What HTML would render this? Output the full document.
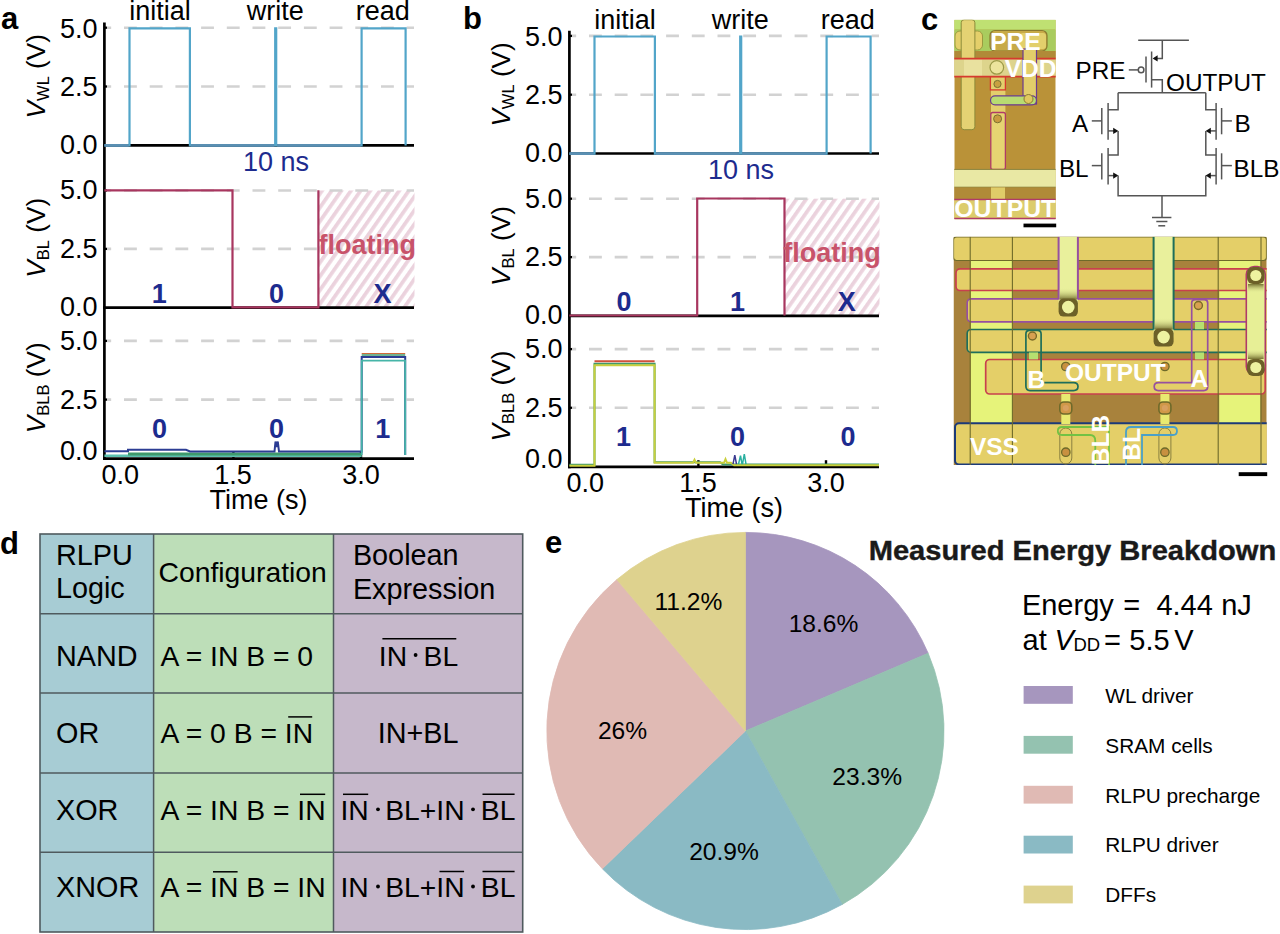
<!DOCTYPE html><html><head><meta charset="utf-8"><style>html,body{margin:0;padding:0;background:#fff;}svg{display:block;}text{font-family:"Liberation Sans", sans-serif;}</style></head><body>
<svg width="1280" height="934" viewBox="0 0 1280 934">
<defs><pattern id="hatch" patternUnits="userSpaceOnUse" width="7.9" height="20" patternTransform="rotate(35)"><rect width="3.7" height="20" fill="#ebd2dd"/></pattern></defs>
<rect width="1280" height="934" fill="#fff"/>
<g transform="translate(0,0)">
<rect x="318.4" y="190.5" width="96.10000000000002" height="116.5" fill="url(#hatch)"/>
<line x1="104.4" y1="27.7" x2="414" y2="27.7" stroke="#d2d2d2" stroke-width="2.6" stroke-dasharray="12.85 12.85" stroke-dashoffset="6.1"/>
<line x1="104.4" y1="86.5" x2="414" y2="86.5" stroke="#d2d2d2" stroke-width="2.6" stroke-dasharray="12.85 12.85" stroke-dashoffset="6.1"/>
<line x1="104.4" y1="190.5" x2="414" y2="190.5" stroke="#d2d2d2" stroke-width="2.6" stroke-dasharray="12.85 12.85" stroke-dashoffset="6.1"/>
<line x1="104.4" y1="248.9" x2="414" y2="248.9" stroke="#d2d2d2" stroke-width="2.6" stroke-dasharray="12.85 12.85" stroke-dashoffset="6.1"/>
<line x1="104.4" y1="340.9" x2="414" y2="340.9" stroke="#d2d2d2" stroke-width="2.6" stroke-dasharray="12.85 12.85" stroke-dashoffset="6.1"/>
<line x1="104.4" y1="399.6" x2="414" y2="399.6" stroke="#d2d2d2" stroke-width="2.6" stroke-dasharray="12.85 12.85" stroke-dashoffset="6.1"/>
<line x1="104.4" y1="22.5" x2="104.4" y2="460" stroke="#000" stroke-width="2.7"/>
<line x1="103" y1="145.3" x2="414" y2="145.3" stroke="#000" stroke-width="2.7"/>
<line x1="103" y1="307.7" x2="414" y2="307.7" stroke="#000" stroke-width="2.7"/>
<line x1="103" y1="458.6" x2="414" y2="458.6" stroke="#000" stroke-width="2.7"/>
<line x1="104" y1="27.7" x2="107" y2="27.7" stroke="#000" stroke-width="2.2"/>
<line x1="104" y1="86.5" x2="107" y2="86.5" stroke="#000" stroke-width="2.2"/>
<line x1="104" y1="190.5" x2="107" y2="190.5" stroke="#000" stroke-width="2.2"/>
<line x1="104" y1="248.9" x2="107" y2="248.9" stroke="#000" stroke-width="2.2"/>
<line x1="104" y1="340.9" x2="107" y2="340.9" stroke="#000" stroke-width="2.2"/>
<line x1="104" y1="399.6" x2="107" y2="399.6" stroke="#000" stroke-width="2.2"/>
<line x1="233.4" y1="458" x2="233.4" y2="452" stroke="#000" stroke-width="2.4"/>
<line x1="361" y1="458" x2="361" y2="452" stroke="#000" stroke-width="2.4"/>
<path d="M104.4,145.4 H129.5 V28.3 H189.9 V145.4 H275.2 V28.3 H276.2 V145.4 H361.6 V28.3 H405.6 V145.4" fill="none" stroke="#52a5c9" stroke-width="2.2"/>
<path d="M104.4,145.4 H128.6 M190.8,145.4 H274.3 M277.1,145.4 H360.7" fill="none" stroke="#5a8fb2" stroke-width="2.6"/>
<path d="M104.4,190.3 H232.5 V307.3 H318.4 V190.3" fill="none" stroke="#a8365f" stroke-width="2.2"/>
<path d="M104.4,455.8 H361.7" fill="none" stroke="#5cc0b0" stroke-width="2.4"/>
<path d="M128,454 H361.7" fill="none" stroke="#3f9a6c" stroke-width="3"/>
<path d="M361.7,355 H405.2" fill="none" stroke="#3f9a6c" stroke-width="1.5"/>
<path d="M361.7,353.5 H405.2" fill="none" stroke="#d06a3a" stroke-width="1.2"/>
<path d="M104.4,451.3 H128 V449.8 H186 L190,451.5 H274.5 L275.5,441.5 L276.6,447 L277.8,441.5 L279,451.5 H361.7 V357 H405.2 V455" fill="none" stroke="#2c3d94" stroke-width="2"/>
<path d="M361.7,455 V360.7 H405.2 V455" fill="none" stroke="#46b5a8" stroke-width="1.8"/>
<text x="97.6" y="37.6" font-size="27" fill="#000" font-weight="normal" text-anchor="end" font-style="normal" >5.0</text>
<text x="97.6" y="96.3" font-size="27" fill="#000" font-weight="normal" text-anchor="end" font-style="normal" >2.5</text>
<text x="97.6" y="153.8" font-size="27" fill="#000" font-weight="normal" text-anchor="end" font-style="normal" >0.0</text>
<text x="97.6" y="199.4" font-size="27" fill="#000" font-weight="normal" text-anchor="end" font-style="normal" >5.0</text>
<text x="97.6" y="257.7" font-size="27" fill="#000" font-weight="normal" text-anchor="end" font-style="normal" >2.5</text>
<text x="97.6" y="316" font-size="27" fill="#000" font-weight="normal" text-anchor="end" font-style="normal" >0.0</text>
<text x="97.6" y="350.3" font-size="27" fill="#000" font-weight="normal" text-anchor="end" font-style="normal" >5.0</text>
<text x="97.6" y="408.7" font-size="27" fill="#000" font-weight="normal" text-anchor="end" font-style="normal" >2.5</text>
<text x="97.6" y="459.7" font-size="27" fill="#000" font-weight="normal" text-anchor="end" font-style="normal" >0.0</text>
<text x="120.3" y="484.3" font-size="27" fill="#000" font-weight="normal" text-anchor="middle" font-style="normal" >0.0</text>
<text x="233.1" y="484.3" font-size="27" fill="#000" font-weight="normal" text-anchor="middle" font-style="normal" >1.5</text>
<text x="360.9" y="484.3" font-size="27" fill="#000" font-weight="normal" text-anchor="middle" font-style="normal" >3.0</text>
<text x="258.6" y="509.2" font-size="27" fill="#000" font-weight="normal" text-anchor="middle" font-style="normal" >Time (s)</text>
<text transform="translate(45.3,76.2) rotate(-90)" font-size="26.2" text-anchor="middle"><tspan font-style="italic">V</tspan><tspan font-size="16.5" dy="4">WL</tspan><tspan dy="-4"> (V)</tspan></text>
<text transform="translate(45.3,237.8) rotate(-90)" font-size="26.2" text-anchor="middle"><tspan font-style="italic">V</tspan><tspan font-size="16.5" dy="4">BL</tspan><tspan dy="-4"> (V)</tspan></text>
<text transform="translate(45.3,387.8) rotate(-90)" font-size="26.2" text-anchor="middle"><tspan font-style="italic">V</tspan><tspan font-size="16.5" dy="4">BLB</tspan><tspan dy="-4"> (V)</tspan></text>
<text x="160" y="20.3" font-size="27" fill="#000" font-weight="normal" text-anchor="middle" font-style="normal" >initial</text>
<text x="275.3" y="20.3" font-size="27" fill="#000" font-weight="normal" text-anchor="middle" font-style="normal" >write</text>
<text x="382.8" y="20.3" font-size="27" fill="#000" font-weight="normal" text-anchor="middle" font-style="normal" >read</text>
<text x="276" y="170.8" font-size="27" fill="#1d2b8e" font-weight="normal" text-anchor="middle" font-style="normal" >10 ns</text>
<text x="367.3" y="254" font-size="27" fill="#c8536a" font-weight="bold" text-anchor="middle" font-style="normal" >floating</text>
<text x="159.3" y="302.5" font-size="27" fill="#1d2b8e" font-weight="bold" text-anchor="middle" font-style="normal" >1</text>
<text x="276.6" y="302.5" font-size="27" fill="#1d2b8e" font-weight="bold" text-anchor="middle" font-style="normal" >0</text>
<text x="382.5" y="302.5" font-size="27" fill="#1d2b8e" font-weight="bold" text-anchor="middle" font-style="normal" >X</text>
<text x="159.5" y="437.8" font-size="27" fill="#1d2b8e" font-weight="bold" text-anchor="middle" font-style="normal" >0</text>
<text x="276.6" y="437.8" font-size="27" fill="#1d2b8e" font-weight="bold" text-anchor="middle" font-style="normal" >0</text>
<text x="382.7" y="437.8" font-size="27" fill="#1d2b8e" font-weight="bold" text-anchor="middle" font-style="normal" >1</text>
</g>
<g transform="translate(465,8.2)">
<rect x="319.5" y="190.5" width="95.0" height="116.5" fill="url(#hatch)"/>
<line x1="104.4" y1="27.7" x2="414" y2="27.7" stroke="#d2d2d2" stroke-width="2.6" stroke-dasharray="12.85 12.85" stroke-dashoffset="6.1"/>
<line x1="104.4" y1="86.5" x2="414" y2="86.5" stroke="#d2d2d2" stroke-width="2.6" stroke-dasharray="12.85 12.85" stroke-dashoffset="6.1"/>
<line x1="104.4" y1="190.5" x2="414" y2="190.5" stroke="#d2d2d2" stroke-width="2.6" stroke-dasharray="12.85 12.85" stroke-dashoffset="6.1"/>
<line x1="104.4" y1="248.9" x2="414" y2="248.9" stroke="#d2d2d2" stroke-width="2.6" stroke-dasharray="12.85 12.85" stroke-dashoffset="6.1"/>
<line x1="104.4" y1="340.9" x2="414" y2="340.9" stroke="#d2d2d2" stroke-width="2.6" stroke-dasharray="12.85 12.85" stroke-dashoffset="6.1"/>
<line x1="104.4" y1="399.6" x2="414" y2="399.6" stroke="#d2d2d2" stroke-width="2.6" stroke-dasharray="12.85 12.85" stroke-dashoffset="6.1"/>
<line x1="104.4" y1="22.5" x2="104.4" y2="460" stroke="#000" stroke-width="2.7"/>
<line x1="103" y1="145.3" x2="414" y2="145.3" stroke="#000" stroke-width="2.7"/>
<line x1="103" y1="307.7" x2="414" y2="307.7" stroke="#000" stroke-width="2.7"/>
<line x1="103" y1="458.6" x2="414" y2="458.6" stroke="#000" stroke-width="2.7"/>
<line x1="104" y1="27.7" x2="107" y2="27.7" stroke="#000" stroke-width="2.2"/>
<line x1="104" y1="86.5" x2="107" y2="86.5" stroke="#000" stroke-width="2.2"/>
<line x1="104" y1="190.5" x2="107" y2="190.5" stroke="#000" stroke-width="2.2"/>
<line x1="104" y1="248.9" x2="107" y2="248.9" stroke="#000" stroke-width="2.2"/>
<line x1="104" y1="340.9" x2="107" y2="340.9" stroke="#000" stroke-width="2.2"/>
<line x1="104" y1="399.6" x2="107" y2="399.6" stroke="#000" stroke-width="2.2"/>
<line x1="233.4" y1="458" x2="233.4" y2="452" stroke="#000" stroke-width="2.4"/>
<line x1="361" y1="458" x2="361" y2="452" stroke="#000" stroke-width="2.4"/>
<path d="M104.4,145.4 H129.5 V28.3 H189.9 V145.4 H275.2 V28.3 H276.2 V145.4 H361.6 V28.3 H405.6 V145.4" fill="none" stroke="#52a5c9" stroke-width="2.2"/>
<path d="M104.4,145.4 H128.6 M190.8,145.4 H274.3 M277.1,145.4 H360.7" fill="none" stroke="#5a8fb2" stroke-width="2.6"/>
<path d="M104.4,307.3 H232.2 V190.3 H319.5 V307.3" fill="none" stroke="#a8365f" stroke-width="2.2"/>
<path d="M104.4,456.5 H129.5 V355.6 H189.6 V454 H255 L258,456.2 H414" fill="none" stroke="#3f9a6c" stroke-width="2"/>
<path d="M129.5,353 H189.6" fill="none" stroke="#d0503a" stroke-width="2"/>
<path d="M104.4,457.5 H129.5 V357 H189.6 V454.6 H228 L229.5,451.5 L231,454.6 H259 L260.5,451 L262,454.6 H266 L269,457 H414" fill="none" stroke="#c9cf3c" stroke-width="2"/>
<path d="M268,456 L269.8,447 L271.5,456" fill="none" stroke="#3a3a90" stroke-width="1.5"/>
<path d="M273.5,456 L275.5,447.5 L277,456 M277.5,456 L279.3,446 L281,456" fill="none" stroke="#2ab0a0" stroke-width="1.5"/>
<text x="97.6" y="37.6" font-size="27" fill="#000" font-weight="normal" text-anchor="end" font-style="normal" >5.0</text>
<text x="97.6" y="96.3" font-size="27" fill="#000" font-weight="normal" text-anchor="end" font-style="normal" >2.5</text>
<text x="97.6" y="153.8" font-size="27" fill="#000" font-weight="normal" text-anchor="end" font-style="normal" >0.0</text>
<text x="97.6" y="199.4" font-size="27" fill="#000" font-weight="normal" text-anchor="end" font-style="normal" >5.0</text>
<text x="97.6" y="257.7" font-size="27" fill="#000" font-weight="normal" text-anchor="end" font-style="normal" >2.5</text>
<text x="97.6" y="316" font-size="27" fill="#000" font-weight="normal" text-anchor="end" font-style="normal" >0.0</text>
<text x="97.6" y="350.3" font-size="27" fill="#000" font-weight="normal" text-anchor="end" font-style="normal" >5.0</text>
<text x="97.6" y="408.7" font-size="27" fill="#000" font-weight="normal" text-anchor="end" font-style="normal" >2.5</text>
<text x="97.6" y="459.7" font-size="27" fill="#000" font-weight="normal" text-anchor="end" font-style="normal" >0.0</text>
<text x="120.3" y="484.3" font-size="27" fill="#000" font-weight="normal" text-anchor="middle" font-style="normal" >0.0</text>
<text x="233.1" y="484.3" font-size="27" fill="#000" font-weight="normal" text-anchor="middle" font-style="normal" >1.5</text>
<text x="360.9" y="484.3" font-size="27" fill="#000" font-weight="normal" text-anchor="middle" font-style="normal" >3.0</text>
<text x="268.9" y="509.2" font-size="27" fill="#000" font-weight="normal" text-anchor="middle" font-style="normal" >Time (s)</text>
<text transform="translate(45.3,76.2) rotate(-90)" font-size="26.2" text-anchor="middle"><tspan font-style="italic">V</tspan><tspan font-size="16.5" dy="4">WL</tspan><tspan dy="-4"> (V)</tspan></text>
<text transform="translate(45.3,237.8) rotate(-90)" font-size="26.2" text-anchor="middle"><tspan font-style="italic">V</tspan><tspan font-size="16.5" dy="4">BL</tspan><tspan dy="-4"> (V)</tspan></text>
<text transform="translate(45.3,387.8) rotate(-90)" font-size="26.2" text-anchor="middle"><tspan font-style="italic">V</tspan><tspan font-size="16.5" dy="4">BLB</tspan><tspan dy="-4"> (V)</tspan></text>
<text x="160" y="20.3" font-size="27" fill="#000" font-weight="normal" text-anchor="middle" font-style="normal" >initial</text>
<text x="275.3" y="20.3" font-size="27" fill="#000" font-weight="normal" text-anchor="middle" font-style="normal" >write</text>
<text x="382.8" y="20.3" font-size="27" fill="#000" font-weight="normal" text-anchor="middle" font-style="normal" >read</text>
<text x="276" y="170.8" font-size="27" fill="#1d2b8e" font-weight="normal" text-anchor="middle" font-style="normal" >10 ns</text>
<text x="367" y="254" font-size="27" fill="#c8536a" font-weight="bold" text-anchor="middle" font-style="normal" >floating</text>
<text x="159" y="302.5" font-size="27" fill="#1d2b8e" font-weight="bold" text-anchor="middle" font-style="normal" >0</text>
<text x="272.5" y="302.5" font-size="27" fill="#1d2b8e" font-weight="bold" text-anchor="middle" font-style="normal" >1</text>
<text x="381.7" y="302.5" font-size="27" fill="#1d2b8e" font-weight="bold" text-anchor="middle" font-style="normal" >X</text>
<text x="158.6" y="438" font-size="27" fill="#1d2b8e" font-weight="bold" text-anchor="middle" font-style="normal" >1</text>
<text x="272.6" y="438" font-size="27" fill="#1d2b8e" font-weight="bold" text-anchor="middle" font-style="normal" >0</text>
<text x="383" y="438" font-size="27" fill="#1d2b8e" font-weight="bold" text-anchor="middle" font-style="normal" >0</text>
</g>
<rect x="40" y="534" width="113.6" height="398" fill="#a7ccd4"/>
<rect x="153.6" y="534" width="179.9" height="398" fill="#bddeb8"/>
<rect x="333.5" y="534" width="189.20000000000005" height="398" fill="#c6b8cb"/>
<line x1="40" y1="613.7" x2="522.7" y2="613.7" stroke="#4f5a5e" stroke-width="1.5"/>
<line x1="40" y1="693" x2="522.7" y2="693" stroke="#4f5a5e" stroke-width="1.5"/>
<line x1="40" y1="773" x2="522.7" y2="773" stroke="#4f5a5e" stroke-width="1.5"/>
<line x1="40" y1="852.2" x2="522.7" y2="852.2" stroke="#4f5a5e" stroke-width="1.5"/>
<line x1="153.6" y1="534" x2="153.6" y2="932" stroke="#4f5a5e" stroke-width="1.5"/>
<line x1="333.5" y1="534" x2="333.5" y2="932" stroke="#4f5a5e" stroke-width="1.5"/>
<rect x="40" y="534" width="482.7" height="398" fill="none" stroke="#4f5a5e" stroke-width="1.6"/>
<text x="55.9" y="565" font-size="28.8" fill="#000" font-weight="normal" text-anchor="start" font-style="normal" >RLPU</text>
<text x="55.9" y="598.2" font-size="28.8" fill="#000" font-weight="normal" text-anchor="start" font-style="normal" >Logic</text>
<text x="158.5" y="581.9" font-size="28.3" fill="#000" font-weight="normal" text-anchor="start" font-style="normal" >Configuration</text>
<text x="352.9" y="565" font-size="28.8" fill="#000" font-weight="normal" text-anchor="start" font-style="normal" >Boolean</text>
<text x="352.9" y="598.8" font-size="28.8" fill="#000" font-weight="normal" text-anchor="start" font-style="normal" >Expression</text>
<text x="56.0" y="665.6" font-size="28.8" fill="#000" font-weight="normal" text-anchor="start" font-style="normal" >NAND</text>
<text x="56.0" y="742.8" font-size="28.8" fill="#000" font-weight="normal" text-anchor="start" font-style="normal" >OR</text>
<text x="56.0" y="819.8" font-size="28.8" fill="#000" font-weight="normal" text-anchor="start" font-style="normal" >XOR</text>
<text x="56.0" y="897" font-size="28.8" fill="#000" font-weight="normal" text-anchor="start" font-style="normal" >XNOR</text>
<text x="160.5" y="665.6" font-size="28.3" fill="#000" font-weight="normal" text-anchor="start" font-style="normal" >A = IN B = 0</text>
<text x="160.5" y="742.8" font-size="28.3" fill="#000" font-weight="normal" text-anchor="start" font-style="normal" >A = 0 B = IN</text>
<line x1="288.2" y1="716.9" x2="312.2" y2="716.9" stroke="#000" stroke-width="1.5"/>
<text x="160.5" y="819.8" font-size="28.3" fill="#000" font-weight="normal" text-anchor="start" font-style="normal" >A = IN B = IN</text>
<line x1="300" y1="794.3" x2="325.2" y2="794.3" stroke="#000" stroke-width="1.5"/>
<text x="160.5" y="897" font-size="28.3" fill="#000" font-weight="normal" text-anchor="start" font-style="normal" >A = IN B = IN</text>
<line x1="213" y1="871.8" x2="237.6" y2="871.8" stroke="#000" stroke-width="1.5"/>
<text x="378.8" y="665.6" font-size="28.3" fill="#000" font-weight="normal" text-anchor="start" font-style="normal" >IN</text>
<circle cx="415.6" cy="655" r="1.9" fill="#000"/>
<text x="423.6" y="665.6" font-size="28.3" fill="#000" font-weight="normal" text-anchor="start" font-style="normal" >BL</text>
<line x1="382.4" y1="638.8" x2="456.3" y2="638.8" stroke="#000" stroke-width="1.5"/>
<text x="377.7" y="742.8" font-size="28.8" fill="#000" font-weight="normal" text-anchor="start" font-style="normal" >IN+BL</text>
<text x="340.4" y="819.8" font-size="28.3" fill="#000" font-weight="normal" text-anchor="start" font-style="normal" >IN</text>
<circle cx="378" cy="809.3" r="1.9" fill="#000"/>
<text x="385.2" y="819.8" font-size="28.3" fill="#000" font-weight="normal" text-anchor="start" font-style="normal" >BL+IN</text>
<circle cx="473" cy="809.3" r="1.9" fill="#000"/>
<text x="480.8" y="819.8" font-size="28.3" fill="#000" font-weight="normal" text-anchor="start" font-style="normal" >BL</text>
<line x1="482.5" y1="794.3" x2="514.6" y2="794.3" stroke="#000" stroke-width="1.5"/>
<line x1="343" y1="794.3" x2="368.2" y2="794.3" stroke="#000" stroke-width="1.5"/>
<text x="340.4" y="897" font-size="28.3" fill="#000" font-weight="normal" text-anchor="start" font-style="normal" >IN</text>
<circle cx="378" cy="886.5" r="1.9" fill="#000"/>
<text x="385.2" y="897" font-size="28.3" fill="#000" font-weight="normal" text-anchor="start" font-style="normal" >BL+IN</text>
<circle cx="473" cy="886.5" r="1.9" fill="#000"/>
<text x="480.8" y="897" font-size="28.3" fill="#000" font-weight="normal" text-anchor="start" font-style="normal" >BL</text>
<line x1="482.5" y1="871.5" x2="514.6" y2="871.5" stroke="#000" stroke-width="1.5"/>
<line x1="439.5" y1="871.5" x2="464.1" y2="871.5" stroke="#000" stroke-width="1.5"/>
<path d="M745.4,731 L745.40,532.40 A198.6,198.6 0 0 1 928.16,653.27 Z" fill="#a696be" stroke="#a696be" stroke-width="0.8" stroke-linejoin="round"/>
<path d="M745.4,731 L928.16,653.27 A198.6,198.6 0 0 1 842.17,904.43 Z" fill="#94c2b0" stroke="#94c2b0" stroke-width="0.8" stroke-linejoin="round"/>
<path d="M745.4,731 L842.17,904.43 A198.6,198.6 0 0 1 602.35,868.76 Z" fill="#8abac4" stroke="#8abac4" stroke-width="0.8" stroke-linejoin="round"/>
<path d="M745.4,731 L602.35,868.76 A198.6,198.6 0 0 1 616.89,579.58 Z" fill="#e0bab4" stroke="#e0bab4" stroke-width="0.8" stroke-linejoin="round"/>
<path d="M745.4,731 L616.89,579.58 A198.6,198.6 0 0 1 745.40,532.40 Z" fill="#ded28e" stroke="#ded28e" stroke-width="0.8" stroke-linejoin="round"/>
<text x="823.5" y="631.6" font-size="24.6" fill="#000" font-weight="normal" text-anchor="middle" font-style="normal" >18.6%</text>
<text x="867.2" y="784.6" font-size="24.6" fill="#000" font-weight="normal" text-anchor="middle" font-style="normal" >23.3%</text>
<text x="724" y="859.7" font-size="24.6" fill="#000" font-weight="normal" text-anchor="middle" font-style="normal" >20.9%</text>
<text x="622.5" y="739.2" font-size="24.6" fill="#000" font-weight="normal" text-anchor="middle" font-style="normal" >26%</text>
<text x="688.4" y="610" font-size="24.6" fill="#000" font-weight="normal" text-anchor="middle" font-style="normal" >11.2%</text>
<text x="868.7" y="560.3" font-size="28.4" fill="#1a1a1a" font-weight="bold" text-anchor="start" font-style="normal" textLength="407.5" lengthAdjust="spacingAndGlyphs" stroke="#1a1a1a" stroke-width="0.4">Measured Energy Breakdown</text>
<text y="615.3" font-size="29"><tspan x="1021.9">Energy</tspan><tspan x="1123.2">=</tspan><tspan x="1156.4">4.44</tspan><tspan x="1221.2">nJ</tspan></text>
<text y="649.8" font-size="29"><tspan x="1022.6">at</tspan><tspan x="1054.4" font-style="italic">V</tspan><tspan x="1073.4" font-size="18.5" y="650.8">DD</tspan><tspan x="1104" y="649.8">=</tspan><tspan x="1129.3">5.5</tspan><tspan x="1174.3">V</tspan></text>
<rect x="1023.6" y="686.0" width="49.2" height="17.8" fill="#a696be"/>
<text x="1105.3" y="702.7" font-size="20.8" fill="#000" font-weight="normal" text-anchor="start" font-style="normal" >WL driver</text>
<rect x="1023.6" y="735.9" width="49.2" height="17.8" fill="#94c2b0"/>
<text x="1105.3" y="752.6" font-size="20.8" fill="#000" font-weight="normal" text-anchor="start" font-style="normal" >SRAM cells</text>
<rect x="1023.6" y="785.8" width="49.2" height="17.8" fill="#e0bab4"/>
<text x="1105.3" y="802.5" font-size="20.8" fill="#000" font-weight="normal" text-anchor="start" font-style="normal" >RLPU precharge</text>
<rect x="1023.6" y="835.7" width="49.2" height="17.8" fill="#8abac4"/>
<text x="1105.3" y="852.4000000000001" font-size="20.8" fill="#000" font-weight="normal" text-anchor="start" font-style="normal" >RLPU driver</text>
<rect x="1023.6" y="885.6" width="49.2" height="17.8" fill="#ded28e"/>
<text x="1105.3" y="902.3000000000001" font-size="20.8" fill="#000" font-weight="normal" text-anchor="start" font-style="normal" >DFFs</text>
<clipPath id="m1clip"><rect x="954.3" y="19.7" width="101.40000000000009" height="199.8"/></clipPath>
<g clip-path="url(#m1clip)">
<rect x="954.3" y="19.7" width="101.40000000000009" height="199.8" fill="#ba9238"/>
<rect x="954" y="19.7" width="102" height="10" fill="#bfe072"/>
<rect x="954" y="29.6" width="102" height="21.4" fill="#a9cc5e"/>
<rect x="955" y="31" width="27.5" height="19" rx="5" fill="#e4cf6a" stroke="#9a9a40" stroke-width="1"/>
<rect x="990" y="30.5" width="57" height="20.5" rx="5" fill="#c7aa48" stroke="#8a7a30" stroke-width="1.2"/>
<rect x="1020" y="33" width="26" height="16" rx="3" fill="#e2cf6c"/>
<circle cx="967.6" cy="40.8" r="5.2" fill="#d9b858" stroke="#7d7a35" stroke-width="1.3"/>
<rect x="954" y="51" width="102" height="7.5" fill="#b08a38"/>
<rect x="961.2" y="19.7" width="13.7" height="110" rx="3" fill="#e4d273" stroke="#8c8b3a" stroke-width="1"/>
<rect x="954" y="58.5" width="102" height="18.4" fill="#ddd48c"/>
<rect x="964" y="59.5" width="18" height="16.5" fill="#ece4a4" opacity="0.8"/>
<line x1="954" y1="58.6" x2="1056" y2="58.6" stroke="#d63a2e" stroke-width="1.6"/>
<line x1="954" y1="76.6" x2="1056" y2="76.6" stroke="#d63a2e" stroke-width="1.6"/>
<circle cx="996.8" cy="67.4" r="6.8" fill="#ece49c" stroke="#9c9a48" stroke-width="1.2"/>
<rect x="1023" y="49" width="13.5" height="55" fill="#e2cd6a" stroke="#6a3a90" stroke-width="1.2"/>
<rect x="991" y="76.9" width="14.4" height="142" fill="#e3cf6c"/>
<rect x="990.4" y="76.9" width="15" height="13" fill="none" stroke="#d63a2e" stroke-width="1.3"/>
<circle cx="997.5" cy="84" r="3.6" fill="#c8a040" stroke="#7a7030" stroke-width="1"/>
<rect x="990.5" y="95.8" width="46" height="9" rx="4.5" fill="#b8dc72" stroke="#6a3a90" stroke-width="1.2"/>
<circle cx="1028.5" cy="99" r="4.5" fill="#e0c860" stroke="#8a7a30" stroke-width="1"/>
<rect x="990.8" y="112.5" width="14.6" height="57" rx="2" fill="#e6d472" stroke="#b03a68" stroke-width="1.3"/>
<circle cx="997.6" cy="118.8" r="4" fill="#c89a40" stroke="#7a7030" stroke-width="1"/>
<rect x="954" y="169.6" width="102" height="17.4" fill="#e9e8a4"/>
<line x1="954" y1="169.4" x2="1056" y2="169.4" stroke="#8a8440" stroke-width="1"/>
<line x1="954" y1="187.2" x2="1056" y2="187.2" stroke="#8a8440" stroke-width="1"/>
<rect x="954" y="187.5" width="102" height="12" fill="#b08a38"/>
<rect x="991" y="187.5" width="14" height="12" fill="#e0cc68"/>
<rect x="954" y="199.5" width="102" height="19.5" fill="#dccc6c"/>
<line x1="954" y1="199.6" x2="1056" y2="199.6" stroke="#b03a68" stroke-width="1.5"/>
<line x1="954" y1="218.6" x2="1056" y2="218.6" stroke="#b03a68" stroke-width="1.5"/>
</g>
<g clip-path="url(#m1clip)">
<text x="990.2" y="50.3" font-size="24.6" fill="#fff" font-weight="bold" text-anchor="start" font-style="normal" >PRE</text>
<text x="1004.7" y="76.6" font-size="24.6" fill="#fff" font-weight="bold" text-anchor="start" font-style="normal" >VDD</text>
<text x="954.3" y="216.8" font-size="24.8" fill="#fff" font-weight="bold" text-anchor="start" font-style="normal" >OUTPUT</text>
</g>
<rect x="1023.5" y="223.6" width="32.7" height="3.7" fill="#000"/>
<path d="M1138.2,40.3 H1188.9" fill="none" stroke="#555" stroke-width="1.5"/>
<path d="M1162.3,40.3 V58.4 H1154.5" fill="none" stroke="#555" stroke-width="1.5"/>
<path d="M1152.6,58.4 L1157.6,55.3 L1157.6,61.5 Z" fill="#111"/>
<path d="M1151.6,51.5 V87.6" fill="none" stroke="#555" stroke-width="1.5"/>
<path d="M1146,56.6 V82.4" fill="none" stroke="#555" stroke-width="1.5"/>
<circle cx="1141.1" cy="69.9" r="2.8" fill="#fff" stroke="#555" stroke-width="1.5"/>
<path d="M1128.8,69.9 H1138.3" fill="none" stroke="#555" stroke-width="1.5"/>
<path d="M1151.6,79.8 H1162.3 V92.7" fill="none" stroke="#555" stroke-width="1.5"/>
<path d="M1118.1,92.7 H1205.8" fill="none" stroke="#555" stroke-width="1.5"/>
<path d="M1118.1,92.7 V109.8 H1108.1" fill="none" stroke="#555" stroke-width="1.5"/>
<path d="M1108.1,102.9 V139.8" fill="none" stroke="#555" stroke-width="1.5"/>
<path d="M1101.8,108 V134.3" fill="none" stroke="#555" stroke-width="1.5"/>
<path d="M1091.8,120.9 H1101.8" fill="none" stroke="#555" stroke-width="1.5"/>
<path d="M1108.1,130.9 H1114" fill="none" stroke="#555" stroke-width="1.5"/>
<path d="M1118.4,130.9 L1113.2,127.8 L1113.2,134 Z" fill="#111"/>
<path d="M1118.1,130.9 V155 H1108.1" fill="none" stroke="#555" stroke-width="1.5"/>
<path d="M1108.1,148.1 V184.5" fill="none" stroke="#555" stroke-width="1.5"/>
<path d="M1101.8,153.3 V179.4" fill="none" stroke="#555" stroke-width="1.5"/>
<path d="M1091.8,165.6 H1101.8" fill="none" stroke="#555" stroke-width="1.5"/>
<path d="M1108.1,175.6 H1114" fill="none" stroke="#555" stroke-width="1.5"/>
<path d="M1118.4,175.6 L1113.2,172.5 L1113.2,178.7 Z" fill="#111"/>
<path d="M1118.1,175.6 V195.7 H1205.8 V175.6" fill="none" stroke="#555" stroke-width="1.5"/>
<path d="M1205.8,92.7 V109.8 H1216.1" fill="none" stroke="#555" stroke-width="1.5"/>
<path d="M1216.1,102.9 V139.8" fill="none" stroke="#555" stroke-width="1.5"/>
<path d="M1221.6,108 V134.3" fill="none" stroke="#555" stroke-width="1.5"/>
<path d="M1221.6,120.9 H1231.9" fill="none" stroke="#555" stroke-width="1.5"/>
<path d="M1216.1,130.9 H1210" fill="none" stroke="#555" stroke-width="1.5"/>
<path d="M1205.6,130.9 L1210.8,127.8 L1210.8,134 Z" fill="#111"/>
<path d="M1205.8,130.9 V155 H1216.1" fill="none" stroke="#555" stroke-width="1.5"/>
<path d="M1216.1,148.1 V184.5" fill="none" stroke="#555" stroke-width="1.5"/>
<path d="M1221.6,153.3 V179.4" fill="none" stroke="#555" stroke-width="1.5"/>
<path d="M1221.6,165.6 H1231.9" fill="none" stroke="#555" stroke-width="1.5"/>
<path d="M1216.1,175.6 H1210" fill="none" stroke="#555" stroke-width="1.5"/>
<path d="M1205.6,175.6 L1210.8,172.5 L1210.8,178.7 Z" fill="#111"/>
<path d="M1162,195.7 V217.5" fill="none" stroke="#555" stroke-width="1.5"/>
<path d="M1152,217.5 H1171.4" fill="none" stroke="#555" stroke-width="1.5"/>
<path d="M1156.3,221.5 H1167.4" fill="none" stroke="#555" stroke-width="1.5"/>
<path d="M1158.3,225.8 H1165.2" fill="none" stroke="#555" stroke-width="1.5"/>
<text x="1125.5" y="79" font-size="24.3" fill="#000" font-weight="normal" text-anchor="end" font-style="normal" >PRE</text>
<text x="1166" y="90.5" font-size="24.3" fill="#000" font-weight="normal" text-anchor="start" font-style="normal" >OUTPUT</text>
<text x="1088.2" y="132.1" font-size="24.3" fill="#000" font-weight="normal" text-anchor="end" font-style="normal" >A</text>
<text x="1088.6" y="176.8" font-size="24.3" fill="#000" font-weight="normal" text-anchor="end" font-style="normal" >BL</text>
<text x="1234.5" y="132.1" font-size="24.3" fill="#000" font-weight="normal" text-anchor="start" font-style="normal" >B</text>
<text x="1233.5" y="176.8" font-size="24.3" fill="#000" font-weight="normal" text-anchor="start" font-style="normal" >BLB</text>
<clipPath id="m2clip"><rect x="953.5" y="236.8" width="313.20000000000005" height="228.2"/></clipPath>
<g clip-path="url(#m2clip)">
<rect x="953.5" y="236.8" width="313.20000000000005" height="228.2" fill="#a8823c"/>
<rect x="970.7" y="260" width="42" height="163" fill="#e6f37a"/>
<rect x="1219.2" y="260" width="41.3" height="163" fill="#e6f37a"/>
<rect x="953.5" y="236.8" width="313" height="23.7" rx="3" fill="#e4cf68" stroke="#6e6a2a" stroke-width="1.2"/>
<rect x="956" y="268.9" width="315.70000000000005" height="21.600000000000023" rx="4" fill="#e4cf68" stroke="#c8404e" stroke-width="1.7"/>
<rect x="967.2" y="298.8" width="304.5" height="23.0" rx="4" fill="#e4cf68" stroke="#9650a0" stroke-width="1.7"/>
<rect x="967.2" y="329.5" width="304.5" height="22.899999999999977" rx="4" fill="#e4cf68" stroke="#1e6e5a" stroke-width="1.7"/>
<rect x="985.7" y="359.5" width="279.5" height="34.5" rx="4" fill="#e4cf68" stroke="#c8404e" stroke-width="1.7"/>
<rect x="955" y="423.2" width="315" height="41.2" rx="4" fill="#e4cf68" stroke="#1c3a78" stroke-width="2"/>
<line x1="970.2" y1="236.8" x2="970.2" y2="465" stroke="#6e6a2a" stroke-width="1.1"/>
<line x1="1012.4" y1="236.8" x2="1012.4" y2="465" stroke="#6e6a2a" stroke-width="1.1"/>
<line x1="1218.2" y1="236.8" x2="1218.2" y2="465" stroke="#6e6a2a" stroke-width="1.1"/>
<line x1="1261" y1="236.8" x2="1261" y2="465" stroke="#6e6a2a" stroke-width="1.1"/>
<linearGradient id="vg" x1="0" y1="0" x2="0" y2="1"><stop offset="0" stop-color="#e9f09c" stop-opacity="0"/><stop offset="1" stop-color="#6a6428" stop-opacity="0.9"/></linearGradient>
<rect x="1058.6" y="236.8" width="19.300000000000182" height="70.80000000000001" fill="#e9f09c"/>
<line x1="1058.6" y1="236.8" x2="1058.6" y2="299.6" stroke="#9650a0" stroke-width="2"/>
<line x1="1077.9" y1="236.8" x2="1077.9" y2="299.6" stroke="#9650a0" stroke-width="2"/>
<rect x="1059.6" y="287.6" width="17.300000000000182" height="12" fill="url(#vg)"/>
<rect x="1058.6" y="298.6" width="19.300000000000182" height="18" rx="5" fill="#6c6028"/>
<circle cx="1068.25" cy="307.1" r="6.3" fill="#eef2a0"/>
<rect x="1153.6" y="236.8" width="20.0" height="100.80000000000001" fill="#e9f09c"/>
<line x1="1153.6" y1="236.8" x2="1153.6" y2="329.6" stroke="#1e6e5a" stroke-width="2"/>
<line x1="1173.6" y1="236.8" x2="1173.6" y2="329.6" stroke="#1e6e5a" stroke-width="2"/>
<rect x="1154.6" y="317.6" width="18.0" height="12" fill="url(#vg)"/>
<rect x="1153.6" y="328.6" width="20.0" height="18" rx="5" fill="#6c6028"/>
<circle cx="1163.6" cy="337.1" r="6.3" fill="#eef2a0"/>
<rect x="1246.3" y="266.5" width="19" height="108" rx="8" fill="#e7ef96" stroke="#b03a68" stroke-width="1.6"/>
<rect x="1247" y="267.0" width="17.6" height="17" rx="6" fill="#6c6028"/>
<circle cx="1255.8" cy="275.5" r="5.6" fill="#eef2a0"/>
<rect x="1247" y="359.0" width="17.6" height="17" rx="6" fill="#6c6028"/>
<circle cx="1255.8" cy="367.5" r="5.6" fill="#eef2a0"/>
<rect x="1248" y="284" width="15.6" height="9" fill="url(#vg)" transform="rotate(180 1255.8 288.5)"/>
<rect x="1248" y="349" width="15.6" height="10" fill="url(#vg)"/>
<rect x="1029" y="352.4" width="9" height="7" fill="#b6e070"/>
<path d="M1025.9,334 Q1025.9,330.4 1029.5,330.4 H1037.5 Q1041.1,330.4 1041.1,334 V382.6 H1073.5 Q1078,382.6 1078,386.6 Q1078,390.6 1073.5,390.6 H1030 Q1025.9,390.6 1025.9,386 Z" fill="none" stroke="#1e6e5a" stroke-width="1.7"/>
<circle cx="1032.4" cy="336" r="4" fill="#d8a050" stroke="#7a6a28" stroke-width="1.4"/>
<rect x="1195" y="321.8" width="9" height="7.5" fill="#b6e070"/>
<rect x="1195" y="352.4" width="9" height="7" fill="#b6e070"/>
<path d="M1191.7,303 Q1191.7,299.6 1195,299.6 H1204.5 Q1207.7,299.6 1207.7,303 V386.6 Q1207.7,390.6 1203.7,390.6 H1158.5 Q1154.2,390.6 1154.2,386.6 Q1154.2,382.6 1158.5,382.6 H1191.7 Z" fill="none" stroke="#9650a0" stroke-width="1.7"/>
<circle cx="1198.4" cy="305.5" r="4" fill="#d8a050" stroke="#7a6a28" stroke-width="1.4"/>
<rect x="1061.3" y="394" width="9" height="30" fill="#e8ea70"/>
<circle cx="1065.8" cy="366.5" r="4.2" fill="#c89040" stroke="#6e6a2a" stroke-width="1.3"/>
<rect x="1059.8" y="402" width="12" height="12" rx="4" fill="#d09848" stroke="#6e6a2a" stroke-width="1.6"/>
<circle cx="1065.8" cy="408" r="3" fill="#d8a060"/>
<rect x="1059.8" y="428" width="12" height="36" rx="6" fill="none" stroke="#8a8040" stroke-width="1"/>
<circle cx="1065.8" cy="452.2" r="4.2" fill="#c89040" stroke="#6e6a2a" stroke-width="1.3"/>
<rect x="1160.4" y="394" width="9" height="30" fill="#e8ea70"/>
<circle cx="1164.9" cy="366.5" r="4.2" fill="#c89040" stroke="#6e6a2a" stroke-width="1.3"/>
<rect x="1158.9" y="402" width="12" height="12" rx="4" fill="#d09848" stroke="#6e6a2a" stroke-width="1.6"/>
<circle cx="1164.9" cy="408" r="3" fill="#d8a060"/>
<rect x="1158.9" y="428" width="12" height="36" rx="6" fill="none" stroke="#8a8040" stroke-width="1"/>
<circle cx="1164.9" cy="452.2" r="4.2" fill="#c89040" stroke="#6e6a2a" stroke-width="1.3"/>
<path d="M1110,427 H1062 Q1057.8,427 1057.8,431 Q1057.8,435 1062,435 H1090 Q1095.3,435 1095.3,441 V465" fill="none" stroke="#72c244" stroke-width="1.8"/>
<path d="M1109,465 V427" fill="none" stroke="#72c244" stroke-width="1.8"/>
<path d="M1126,465 V432 Q1126,427 1131,427 H1173 Q1177,427 1177,431 Q1177,435 1173,435 H1142 V465" fill="none" stroke="#4aa0c8" stroke-width="1.8"/>
</g>
<text x="1115.4" y="380.6" font-size="24.5" fill="#fff" font-weight="bold" text-anchor="middle" font-style="normal" >OUTPUT</text>
<text x="1036.4" y="388" font-size="24.5" fill="#fff" font-weight="bold" text-anchor="middle" font-style="normal" >B</text>
<text x="1199.4" y="387.2" font-size="24.5" fill="#fff" font-weight="bold" text-anchor="middle" font-style="normal" >A</text>
<text x="994.4" y="455.4" font-size="24.5" fill="#fff" font-weight="bold" text-anchor="middle" font-style="normal" >VSS</text>
<text transform="translate(1108.6,440) rotate(-90)" font-size="24.5" font-weight="bold" fill="#fff" text-anchor="middle">BLB</text>
<text transform="translate(1140.4,444.3) rotate(-90)" font-size="24.5" font-weight="bold" fill="#fff" text-anchor="middle">BL</text>
<rect x="1238.7" y="472.2" width="28.5" height="3.9" fill="#000"/>
<text x="1" y="28.7" font-size="31" fill="#000" font-weight="bold" text-anchor="start" font-style="normal" >a</text>
<text x="463" y="28.7" font-size="31" fill="#000" font-weight="bold" text-anchor="start" font-style="normal" >b</text>
<text x="921" y="29.5" font-size="31" fill="#000" font-weight="bold" text-anchor="start" font-style="normal" >c</text>
<text x="0" y="554" font-size="31" fill="#000" font-weight="bold" text-anchor="start" font-style="normal" >d</text>
<text x="545" y="553" font-size="31" fill="#000" font-weight="bold" text-anchor="start" font-style="normal" >e</text>
</svg></body></html>
